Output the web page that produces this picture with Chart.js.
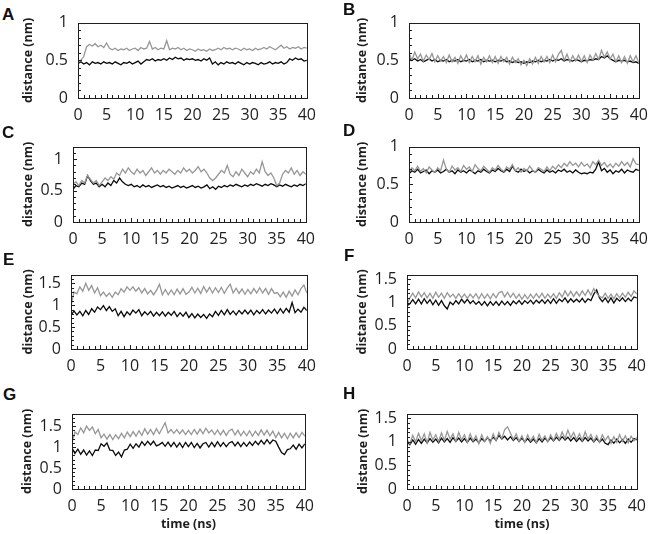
<!DOCTYPE html>
<html>
<head>
<meta charset="utf-8">
<script src="https://cdn.jsdelivr.net/npm/chart.js@4.4.0/dist/chart.umd.min.js"></script>
<style>
  html, body { margin: 0; padding: 0; background: #fff; }
  #page { position: relative; width: 654px; height: 534px; overflow: hidden; }
  #page canvas { position: absolute; }
  .tag { position: absolute; font: bold 17px "Liberation Sans", Arial, sans-serif; line-height: 17px; color: #111; }
</style>
</head>
<body>
<div id="page"></div>
<script>
// time axis (ns), one sample every 0.5 ns
const time = [0,0.5,1,1.5,2,2.5,3,3.5,4,4.5,5,5.5,6,6.5,7,7.5,8,8.5,9,9.5,
  10,10.5,11,11.5,12,12.5,13,13.5,14,14.5,15,15.5,16,16.5,17,17.5,18,18.5,19,19.5,
  20,20.5,21,21.5,22,22.5,23,23.5,24,24.5,25,25.5,26,26.5,27,27.5,28,28.5,29,29.5,
  30,30.5,31,31.5,32,32.5,33,33.5,34,34.5,35,35.5,36,36.5,37,37.5,38,38.5,39,39.5,40];

const xTicks = [0, 5, 10, 15, 20, 25, 30, 35, 40];
const yTicksLow = [0, 0.5, 1];
const yTicksHigh = [0, 0.5, 1, 1.5];

// distances (nm)
const grayA = [0.47,0.50,0.55,0.68,0.71,0.69,0.72,0.68,0.70,0.67,
  0.73,0.66,0.64,0.66,0.63,0.65,0.64,0.66,0.63,0.65,
  0.66,0.63,0.67,0.65,0.66,0.75,0.65,0.67,0.64,0.66,
  0.65,0.76,0.64,0.66,0.65,0.67,0.64,0.66,0.63,0.65,
  0.64,0.62,0.65,0.63,0.64,0.62,0.65,0.63,0.64,0.66,
  0.64,0.67,0.65,0.66,0.64,0.66,0.65,0.63,0.66,0.64,
  0.65,0.63,0.66,0.64,0.65,0.67,0.65,0.68,0.66,0.64,
  0.67,0.70,0.66,0.68,0.65,0.67,0.66,0.68,0.65,0.67,0.66];
const blackA = [0.46,0.48,0.45,0.47,0.44,0.48,0.46,0.47,0.45,0.48,
  0.46,0.47,0.45,0.48,0.46,0.44,0.47,0.46,0.48,0.45,
  0.47,0.49,0.45,0.48,0.51,0.50,0.52,0.49,0.51,0.50,
  0.52,0.50,0.53,0.51,0.54,0.52,0.53,0.50,0.52,0.51,
  0.52,0.50,0.51,0.49,0.52,0.50,0.53,0.45,0.48,0.44,
  0.47,0.45,0.48,0.46,0.47,0.45,0.48,0.46,0.44,0.47,
  0.45,0.47,0.46,0.44,0.47,0.45,0.46,0.48,0.45,0.47,
  0.46,0.48,0.45,0.47,0.52,0.50,0.53,0.51,0.52,0.49,0.50];

const grayB = [0.60,0.50,0.61,0.52,0.58,0.49,0.57,0.51,0.59,0.48,
  0.56,0.49,0.55,0.47,0.57,0.48,0.54,0.46,0.56,0.49,
  0.57,0.47,0.55,0.48,0.56,0.45,0.54,0.48,0.56,0.47,
  0.55,0.46,0.55,0.48,0.54,0.45,0.54,0.47,0.52,0.44,
  0.50,0.43,0.52,0.45,0.54,0.46,0.55,0.48,0.55,0.47,
  0.57,0.48,0.58,0.63,0.50,0.58,0.48,0.56,0.49,0.57,
  0.48,0.56,0.47,0.57,0.50,0.59,0.51,0.63,0.54,0.61,
  0.52,0.58,0.48,0.56,0.47,0.55,0.46,0.56,0.48,0.56,0.47];
const blackB = [0.53,0.50,0.52,0.49,0.51,0.48,0.50,0.52,0.49,0.51,
  0.48,0.50,0.49,0.51,0.48,0.50,0.49,0.51,0.48,0.50,
  0.49,0.51,0.48,0.50,0.49,0.51,0.48,0.50,0.49,0.50,
  0.48,0.50,0.49,0.51,0.48,0.49,0.47,0.49,0.47,0.48,
  0.46,0.48,0.47,0.49,0.48,0.50,0.48,0.50,0.49,0.51,
  0.49,0.51,0.50,0.52,0.49,0.51,0.50,0.49,0.51,0.50,
  0.48,0.50,0.49,0.51,0.50,0.52,0.51,0.55,0.53,0.56,
  0.52,0.50,0.48,0.50,0.49,0.50,0.48,0.49,0.47,0.48,0.46];

const grayC = [0.60,0.64,0.58,0.66,0.62,0.74,0.68,0.62,0.66,0.58,
  0.64,0.70,0.66,0.72,0.68,0.78,0.74,0.84,0.78,0.86,
  0.80,0.76,0.84,0.78,0.82,0.74,0.80,0.86,0.78,0.82,
  0.76,0.82,0.78,0.84,0.80,0.76,0.82,0.78,0.86,0.80,
  0.84,0.78,0.82,0.88,0.80,0.84,0.78,0.70,0.66,0.70,
  0.76,0.82,0.78,0.90,0.76,0.72,0.80,0.74,0.84,0.78,
  0.72,0.80,0.76,0.84,0.78,0.96,0.80,0.74,0.78,0.70,
  0.58,0.62,0.76,0.82,0.78,0.86,0.76,0.82,0.74,0.80,0.76];
const blackC = [0.52,0.58,0.56,0.62,0.60,0.74,0.66,0.60,0.62,0.56,
  0.60,0.56,0.62,0.58,0.66,0.62,0.70,0.64,0.60,0.58,
  0.60,0.56,0.58,0.55,0.59,0.56,0.58,0.55,0.57,0.59,
  0.56,0.58,0.55,0.57,0.54,0.56,0.58,0.55,0.57,0.54,
  0.56,0.58,0.55,0.57,0.54,0.56,0.59,0.53,0.56,0.52,
  0.57,0.55,0.58,0.56,0.59,0.57,0.60,0.58,0.56,0.59,
  0.57,0.60,0.58,0.61,0.59,0.57,0.60,0.58,0.61,0.59,
  0.56,0.59,0.57,0.60,0.58,0.56,0.59,0.57,0.60,0.58,0.61];

const grayD = [0.66,0.72,0.68,0.74,0.67,0.71,0.65,0.73,0.69,0.66,
  0.72,0.68,0.82,0.70,0.66,0.74,0.69,0.72,0.67,0.75,
  0.70,0.73,0.67,0.76,0.71,0.68,0.74,0.70,0.66,0.72,
  0.69,0.75,0.70,0.67,0.73,0.70,0.76,0.68,0.72,0.66,
  0.71,0.68,0.74,0.69,0.66,0.72,0.70,0.67,0.73,0.68,
  0.74,0.70,0.76,0.72,0.78,0.74,0.80,0.75,0.78,0.73,
  0.79,0.74,0.77,0.72,0.80,0.76,0.82,0.75,0.79,0.73,
  0.77,0.72,0.78,0.74,0.80,0.75,0.79,0.73,0.84,0.77,0.76];
const blackD = [0.64,0.68,0.66,0.70,0.65,0.67,0.69,0.64,0.68,0.66,
  0.69,0.65,0.67,0.70,0.66,0.68,0.64,0.69,0.66,0.68,
  0.65,0.69,0.67,0.64,0.68,0.66,0.70,0.67,0.65,0.69,
  0.67,0.71,0.68,0.66,0.70,0.67,0.74,0.68,0.66,0.70,
  0.67,0.69,0.65,0.68,0.66,0.70,0.67,0.65,0.69,0.66,
  0.68,0.65,0.69,0.67,0.70,0.66,0.68,0.65,0.69,0.66,
  0.64,0.65,0.64,0.66,0.65,0.70,0.80,0.68,0.71,0.66,
  0.69,0.64,0.68,0.66,0.70,0.65,0.69,0.67,0.66,0.70,0.68];

const grayE = [0.98,1.30,1.26,1.42,1.32,1.50,1.34,1.45,1.28,1.40,
  1.22,1.30,1.20,1.28,1.18,1.30,1.24,1.38,1.30,1.42,
  1.34,1.42,1.32,1.40,1.28,1.38,1.26,1.34,1.24,1.34,
  1.48,1.24,1.36,1.24,1.35,1.24,1.37,1.26,1.38,1.25,
  1.30,1.41,1.28,1.39,1.27,1.43,1.30,1.41,1.28,1.40,
  1.29,1.41,1.27,1.39,1.48,1.28,1.39,1.27,1.37,1.25,
  1.36,1.26,1.38,1.28,1.40,1.28,1.38,1.25,1.38,1.27,
  1.29,1.19,1.30,1.18,1.32,1.21,1.35,1.24,1.38,1.46,1.28];
const blackE = [0.76,0.87,0.78,0.86,0.76,0.88,0.79,0.92,0.84,0.96,
  0.90,0.99,0.88,0.97,0.86,0.92,0.76,0.86,0.74,0.85,
  0.78,0.89,0.82,0.90,0.76,0.85,0.78,0.86,0.75,0.84,
  0.76,0.85,0.75,0.84,0.77,0.86,0.74,0.83,0.75,0.84,
  0.72,0.81,0.71,0.80,0.72,0.79,0.70,0.80,0.74,0.86,
  0.77,0.88,0.78,0.90,0.79,0.87,0.78,0.88,0.80,0.89,
  0.80,0.89,0.78,0.88,0.81,0.90,0.80,0.89,0.82,0.91,
  0.81,0.92,0.82,0.93,0.84,1.06,0.83,0.91,0.84,0.95,0.88];

const grayF = [0.95,1.10,1.20,1.10,1.23,1.12,1.21,1.10,1.20,1.09,
  1.22,1.11,1.20,1.09,1.21,1.12,1.18,1.09,1.19,1.10,
  1.18,1.09,1.18,1.10,1.19,1.08,1.19,1.09,1.18,1.08,
  1.19,1.10,1.21,1.24,1.12,1.22,1.11,1.20,1.09,1.18,
  1.07,1.17,1.08,1.18,1.09,1.19,1.10,1.20,1.09,1.18,
  1.10,1.19,1.09,1.21,1.12,1.25,1.14,1.24,1.13,1.23,
  1.14,1.25,1.15,1.27,1.16,1.30,1.20,1.13,1.10,1.20,
  1.09,1.18,1.08,1.19,1.10,1.20,1.11,1.22,1.13,1.25,1.18];
const blackF = [0.93,0.97,1.06,0.97,1.07,0.97,1.08,0.98,1.06,0.95,
  1.05,0.94,1.04,0.93,0.86,1.01,0.95,1.04,0.97,1.07,
  0.99,1.07,0.98,1.04,0.96,1.02,0.94,1.02,0.93,1.02,
  0.94,1.02,0.94,1.03,0.95,1.02,0.94,1.03,0.97,1.04,
  0.96,1.04,0.98,1.05,0.97,1.05,0.99,1.06,0.98,1.06,
  0.98,1.08,0.98,1.07,1.02,1.10,1.00,1.08,1.01,1.07,
  1.01,1.09,1.00,1.08,1.04,1.18,1.27,1.10,1.02,1.10,
  1.00,1.10,0.99,1.09,1.03,1.10,1.02,1.09,1.03,1.12,1.10];

const grayG = [1.10,1.36,1.30,1.46,1.34,1.50,1.40,1.48,1.32,1.42,
  1.22,1.31,1.19,1.30,1.18,1.29,1.20,1.33,1.22,1.36,
  1.25,1.37,1.26,1.39,1.28,1.44,1.31,1.42,1.30,1.44,
  1.32,1.45,1.58,1.34,1.42,1.33,1.42,1.32,1.41,1.30,
  1.40,1.30,1.42,1.31,1.43,1.32,1.45,1.34,1.41,1.30,
  1.41,1.29,1.40,1.28,1.39,1.43,1.29,1.40,1.27,1.38,
  1.27,1.39,1.26,1.38,1.28,1.41,1.29,1.40,1.27,1.38,
  1.23,1.35,1.22,1.33,1.20,1.33,1.22,1.34,1.23,1.35,1.26];
const blackG = [0.98,0.85,0.95,0.83,0.93,0.81,0.91,0.80,0.93,0.92,
  1.08,1.02,1.10,0.93,0.92,0.80,0.88,0.77,0.93,0.95,
  1.07,0.97,1.08,1.00,1.13,1.04,1.14,1.05,1.14,1.03,
  1.06,1.11,1.02,1.12,1.01,1.11,1.00,1.10,0.99,1.11,
  1.01,1.11,0.99,1.09,0.98,1.08,1.11,1.00,1.11,1.01,
  1.13,1.02,1.11,1.01,1.10,1.13,1.03,1.12,1.01,1.11,
  1.02,1.12,1.04,1.14,1.06,1.16,1.07,1.18,1.08,1.17,
  1.14,1.00,0.87,0.82,0.94,0.96,1.05,0.95,1.07,0.98,1.08];

const grayH = [1.05,0.96,1.14,1.00,1.18,1.03,1.17,0.98,1.20,1.04,
  1.15,1.01,1.19,1.03,1.22,1.06,1.17,1.01,1.20,1.04,
  1.15,0.99,1.17,1.02,1.13,0.96,1.15,1.01,1.11,0.97,
  1.17,1.03,1.20,1.07,1.26,1.32,1.19,1.05,1.17,1.01,
  1.13,0.99,1.15,1.02,1.12,0.98,1.16,1.03,1.13,1.00,
  1.15,1.03,1.18,1.05,1.21,1.07,1.25,1.09,1.20,1.05,
  1.17,1.03,1.21,1.06,1.16,1.01,1.13,0.99,1.15,1.03,
  1.12,0.97,1.11,0.99,1.15,1.01,1.13,0.98,1.12,1.02,1.10];
const blackH = [1.00,0.94,1.04,0.95,1.05,0.97,1.06,0.98,1.07,0.99,
  1.06,0.98,1.08,1.00,1.07,0.99,1.09,1.01,1.08,1.00,
  1.07,0.99,1.08,1.00,1.06,0.98,1.07,1.01,1.09,1.02,
  1.10,1.03,1.14,1.06,1.12,1.04,1.11,1.03,1.09,1.01,
  1.08,1.00,1.07,0.99,1.06,0.98,1.07,1.00,1.08,1.01,
  1.09,1.02,1.10,1.03,1.11,1.04,1.10,1.02,1.09,1.01,
  1.08,1.01,1.09,1.02,1.08,1.00,1.07,0.99,1.06,0.97,
  0.94,1.04,0.97,1.06,0.98,1.05,0.97,1.06,0.99,1.07,1.04];

// panel layout: box = [left, right, top, bottom] of the plot frame in page pixels
const panels = [
  { tag: 'A', tagAt: [2, 6],    gray: grayA, black: blackA, ymax: 1,   yTicks: yTicksLow,  box: [78, 312, 13, 98],   axisW: 57 },
  { tag: 'B', tagAt: [343, 1],  gray: grayB, black: blackB, ymax: 1,   yTicks: yTicksLow,  box: [409, 644, 13, 98],  axisW: 54 },
  { tag: 'C', tagAt: [2, 124],  gray: grayC, black: blackC, ymax: 1.2, yTicks: yTicksLow,  box: [73, 311, 137, 222], axisW: 52 },
  { tag: 'D', tagAt: [343, 122],gray: grayD, black: blackD, ymax: 1,   yTicks: yTicksLow,  box: [409, 644, 137, 222],axisW: 54 },
  { tag: 'E', tagAt: [3, 251],  gray: grayE, black: blackE, ymax: 1.7, yTicks: yTicksHigh, box: [71, 312, 265, 349], axisW: 50 },
  { tag: 'F', tagAt: [344, 247],gray: grayF, black: blackF, ymax: 1.6, yTicks: yTicksHigh, box: [407, 642, 265, 349],axisW: 52 },
  { tag: 'G', tagAt: [3, 386],  gray: grayG, black: blackG, ymax: 1.8, yTicks: yTicksHigh, box: [72, 310, 404, 489], axisW: 52, xTitle: true },
  { tag: 'H', tagAt: [343, 385],gray: grayH, black: blackH, ymax: 1.6, yTicks: yTicksHigh, box: [407, 642, 404, 489],axisW: 51, xTitle: true }
];

const PAD_T = 10, PAD_R = 12;
const INK = '#1e1e1e';
const tickFont = { family: '"Open Sans", sans-serif', size: 16 };
const titleFont = { family: '"Open Sans", sans-serif', size: 12.5, weight: 'bold' };

// frame around the plot plus the small inward ticks
const frameTicks = {
  id: 'frameTicks',
  afterDatasetsDraw(chart) {
    const { ctx, chartArea: a, scales: { x, y } } = chart;
    ctx.save();
    ctx.strokeStyle = INK;
    ctx.lineWidth = 1;
    ctx.beginPath();
    for (let v = 0; v <= 40; v++) {
      const px = Math.round(x.getPixelForValue(v)) + 0.5;
      const len = v % 5 === 0 ? 4 : 3;
      ctx.moveTo(px, a.bottom);
      ctx.lineTo(px, a.bottom - len);
    }
    const n = Math.round(y.max * 10);
    for (let k = 0; k <= n; k++) {
      const py = Math.round(y.getPixelForValue(k / 10)) + 0.5;
      const len = k % 5 === 0 ? 4 : 3;
      ctx.moveTo(a.left, py);
      ctx.lineTo(a.left + len, py);
    }
    ctx.stroke();
    ctx.strokeRect(Math.round(a.left) + 0.5, Math.round(a.top) + 0.5,
      Math.round(a.right - a.left), Math.round(a.bottom - a.top));
    ctx.restore();
  }
};

const page = document.getElementById('page');

panels.forEach(p => {
  const [l, r, t, b] = p.box;
  const axisH = p.xTitle ? 43 : 30;
  const cv = document.createElement('canvas');
  const w = p.axisW + (r - l) + PAD_R;
  const h = PAD_T + (b - t) + axisH;
  cv.width = w; cv.height = h;
  cv.style.left = (l - p.axisW) + 'px';
  cv.style.top = (t - PAD_T) + 'px';
  cv.style.width = w + 'px'; cv.style.height = h + 'px';
  page.appendChild(cv);

  const tag = document.createElement('div');
  tag.className = 'tag';
  tag.textContent = p.tag;
  tag.style.left = p.tagAt[0] + 'px';
  tag.style.top = p.tagAt[1] + 'px';
  page.appendChild(tag);

  new Chart(cv, {
    type: 'line',
    data: {
      datasets: [
        { data: time.map((x, i) => ({ x, y: p.gray[i] })), borderColor: '#979797', order: 0 },
        { data: time.map((x, i) => ({ x, y: p.black[i] })), borderColor: '#0a0a0a', order: 1 }
      ]
    },
    options: {
      responsive: false,
      animation: false,
      layout: { padding: { top: PAD_T, right: PAD_R, left: 0, bottom: 0 } },
      elements: { line: { borderWidth: 1.3, tension: 0 }, point: { radius: 0 } },
      plugins: { legend: { display: false }, tooltip: { enabled: false } },
      scales: {
        x: {
          type: 'linear', min: 0, max: 40,
          grid: { display: false, drawTicks: false },
          border: { display: false },
          afterBuildTicks: s => { s.ticks = xTicks.map(v => ({ value: v })); },
          afterFit: s => { s.height = axisH; },
          ticks: { padding: 8, font: tickFont, color: INK, maxRotation: 0, autoSkip: false,
                   callback: v => String(v) },
          title: { display: !!p.xTitle, text: 'time (ns)', font: titleFont, color: INK, padding: 0 }
        },
        y: {
          min: 0, max: p.ymax,
          grid: { display: false, drawTicks: false },
          border: { display: false },
          afterBuildTicks: s => { s.ticks = p.yTicks.map(v => ({ value: v })); },
          afterFit: s => { s.width = p.axisW; },
          ticks: { padding: 10, font: tickFont, color: INK, callback: v => String(v) },
          title: { display: true, text: 'distance (nm)', font: titleFont, color: INK, padding: 0 }
        }
      }
    },
    plugins: [frameTicks]
  });
});
</script>
</body>
</html>
